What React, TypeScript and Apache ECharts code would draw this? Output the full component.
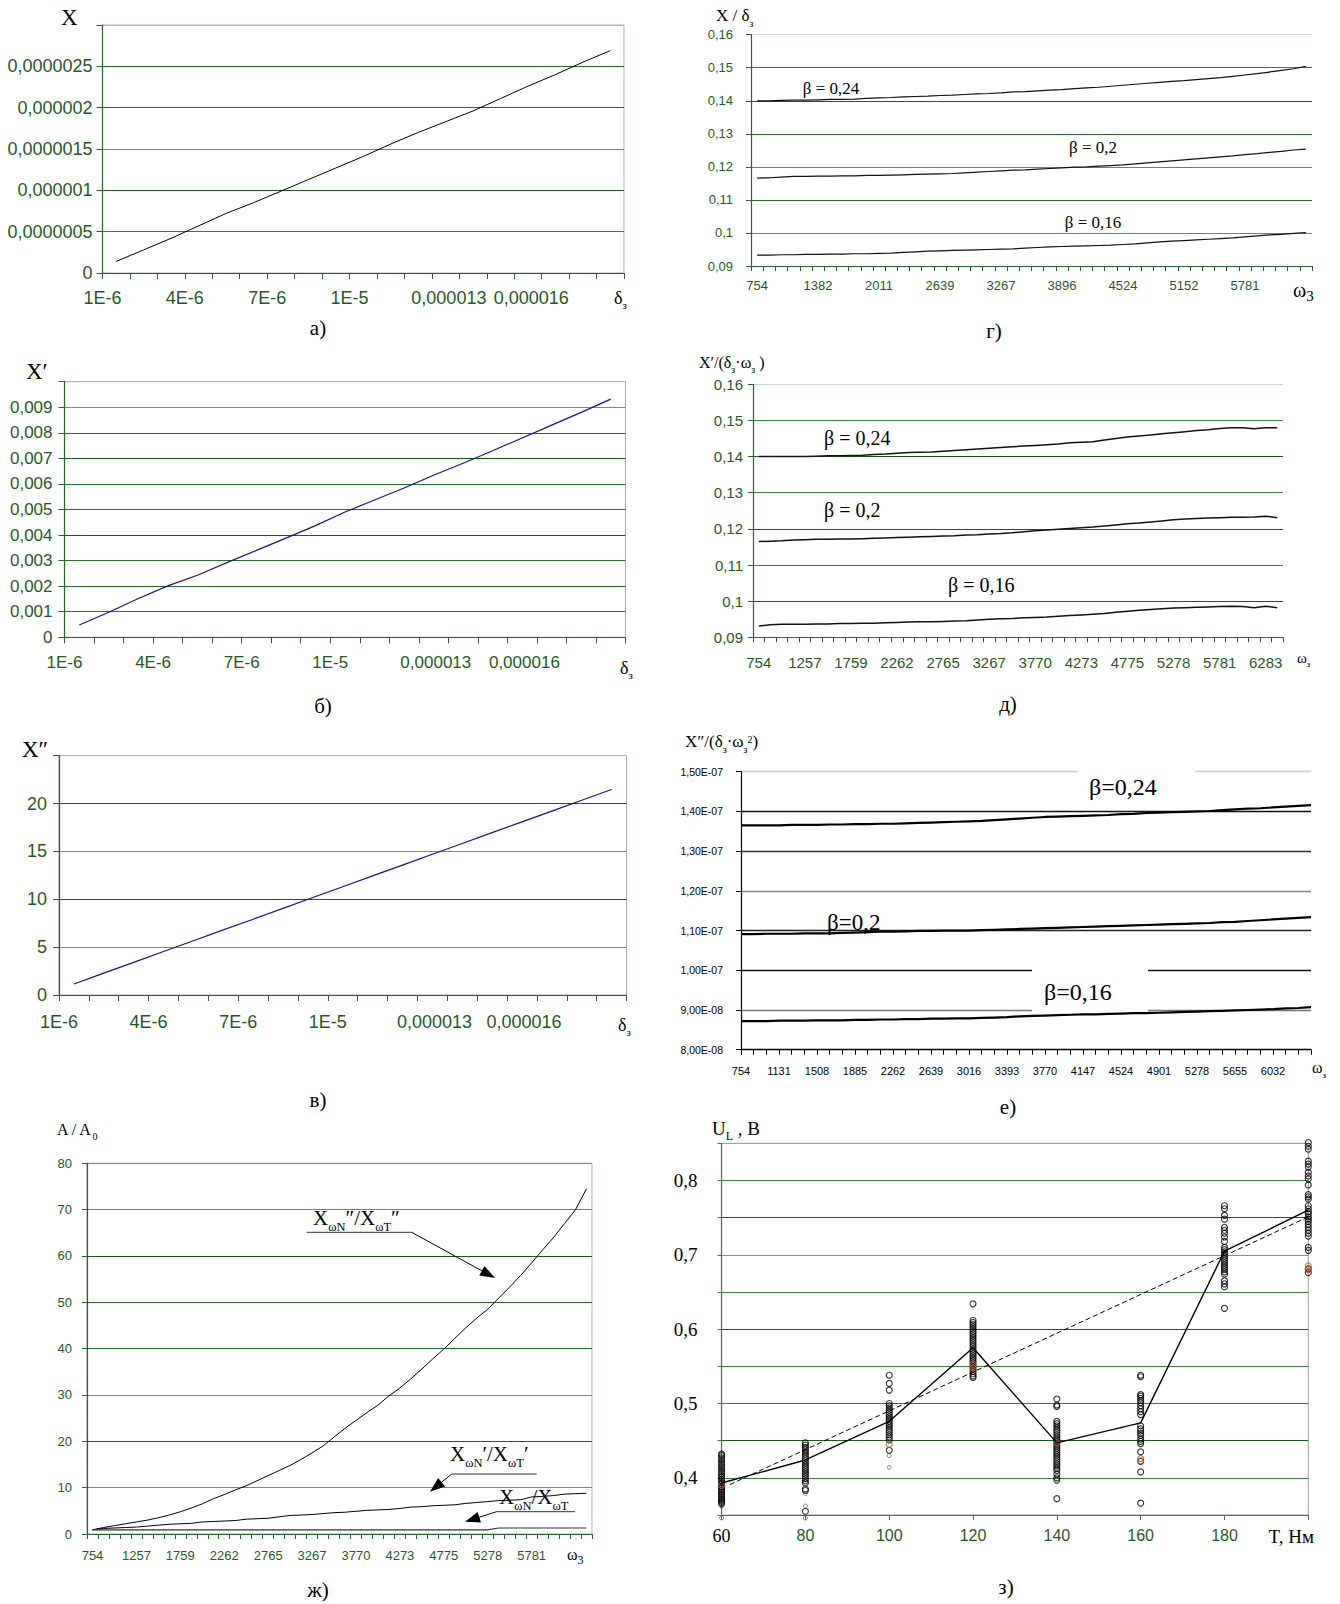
import React, { useEffect, useRef } from 'react';
import * as echarts from 'echarts';

const SERIF = "'Liberation Serif','Times New Roman',serif";
const SANS = "'Liberation Sans',Arial,sans-serif";
const GREEN_TXT = '#1f5a1f';
const GREEN_AX = '#2d5e2d';

// ---------- panels а, б, в : functions of δз ----------
const deltaX = [1.5e-6, 2.5e-6, 3.5e-6, 4.5e-6, 5.5e-6, 6.5e-6, 7.5e-6, 8.5e-6, 9.5e-6, 1.05e-5, 1.15e-5, 1.25e-5, 1.35e-5, 1.45e-5, 1.55e-5, 1.65e-5, 1.75e-5, 1.85e-5, 1.95e-5];
const deltaTickLabels = ['1E-6', '4E-6', '7E-6', '1E-5', '0,000013', '0,000016'];
const xA = [1.4e-7, 2.8e-7, 4.2e-7, 5.7e-7, 7.2e-7, 8.5e-7, 9.9e-7, 1.13e-6, 1.27e-6, 1.41e-6, 1.56e-6, 1.7e-6, 1.83e-6, 1.96e-6, 2.11e-6, 2.26e-6, 2.4e-6, 2.55e-6, 2.69e-6];
const xB = [0.00048, 0.00098, 0.00152, 0.00201, 0.00243, 0.00292, 0.0034, 0.00388, 0.00437, 0.0049, 0.00537, 0.00584, 0.00634, 0.00681, 0.0073, 0.0078, 0.0083, 0.0088, 0.00932];
const xV = [1.15, 2.28, 3.41, 4.54, 5.67, 6.8, 7.92, 9.05, 10.18, 11.31, 12.44, 13.57, 14.7, 15.83, 16.96, 18.08, 19.21, 20.34, 21.47];
const aYLabels = ['0', '0,0000005', '0,000001', '0,0000015', '0,000002', '0,0000025'];
const bYLabels = ['0', '0,001', '0,002', '0,003', '0,004', '0,005', '0,006', '0,007', '0,008', '0,009'];
const vYLabels = ['0', '5', '10', '15', '20'];

// ---------- panels г, д, е, ж : functions of ωз ----------
const omegaCats = ['754', '880', '1005', '1131', '1257', '1382', '1508', '1634', '1759', '1885', '2011', '2136', '2262', '2388', '2513', '2639', '2765', '2890', '3016', '3142', '3267', '3393', '3519', '3644', '3770', '3896', '4021', '4147', '4273', '4398', '4524', '4650', '4775', '4901', '5027', '5152', '5278', '5404', '5529', '5655', '5781', '5906', '6032', '6158', '6283', '6409'];
const rYLabels = ['0,09', '0,1', '0,11', '0,12', '0,13', '0,14', '0,15', '0,16'];
const eYLabels = ['8,00E-08', '9,00E-08', '1,00E-07', '1,10E-07', '1,20E-07', '1,30E-07', '1,40E-07', '1,50E-07'];
const zhYLabels = ['0', '10', '20', '30', '40', '50', '60', '70', '80'];

const gB24 = [0.14, 0.14, 0.1401, 0.1402, 0.1402, 0.1403, 0.1404, 0.1404, 0.1405, 0.1407, 0.1409, 0.141, 0.1412, 0.1413, 0.1414, 0.1416, 0.1417, 0.1419, 0.1421, 0.1422, 0.1424, 0.1427, 0.1428, 0.143, 0.1432, 0.1434, 0.1437, 0.1439, 0.1441, 0.1444, 0.1447, 0.145, 0.1453, 0.1456, 0.1459, 0.1461, 0.1464, 0.1467, 0.147, 0.1474, 0.1478, 0.1482, 0.1487, 0.1492, 0.1497, 0.1504];
const gB20 = [0.1166, 0.1167, 0.1169, 0.1171, 0.1171, 0.1172, 0.1172, 0.1173, 0.1173, 0.1174, 0.1174, 0.1175, 0.1176, 0.1177, 0.1178, 0.1179, 0.118, 0.1182, 0.1184, 0.1186, 0.1188, 0.119, 0.1191, 0.1193, 0.1195, 0.1197, 0.1199, 0.12, 0.1202, 0.1204, 0.1206, 0.1209, 0.1212, 0.1215, 0.1218, 0.1221, 0.1224, 0.1227, 0.123, 0.1233, 0.1237, 0.124, 0.1244, 0.1247, 0.1251, 0.1254];
const gB16 = [0.0933, 0.0933, 0.0934, 0.0934, 0.0935, 0.0935, 0.0936, 0.0936, 0.0937, 0.0937, 0.0938, 0.0939, 0.0941, 0.0943, 0.0945, 0.0946, 0.0947, 0.0948, 0.0949, 0.095, 0.0951, 0.0952, 0.0954, 0.0956, 0.0958, 0.0959, 0.096, 0.0961, 0.0962, 0.0963, 0.0965, 0.0967, 0.097, 0.0973, 0.0975, 0.0977, 0.0979, 0.0981, 0.0983, 0.0985, 0.0988, 0.0991, 0.0994, 0.0996, 0.0999, 0.1001];

const dB24 = [0.14, 0.14, 0.14, 0.14, 0.14, 0.1401, 0.1402, 0.1402, 0.1403, 0.1404, 0.1406, 0.1407, 0.1409, 0.1411, 0.1412, 0.1413, 0.1415, 0.1417, 0.1419, 0.1421, 0.1423, 0.1425, 0.1427, 0.1429, 0.1431, 0.1433, 0.1435, 0.1438, 0.144, 0.1441, 0.1446, 0.145, 0.1454, 0.1457, 0.146, 0.1463, 0.1466, 0.1469, 0.1472, 0.1474, 0.1478, 0.148, 0.148, 0.1477, 0.148, 0.148];
const dB20 = [0.1165, 0.1166, 0.1167, 0.1169, 0.117, 0.1171, 0.1171, 0.1172, 0.1172, 0.1173, 0.1174, 0.1175, 0.1176, 0.1177, 0.1178, 0.1179, 0.118, 0.1181, 0.1183, 0.1184, 0.1186, 0.1187, 0.1189, 0.1192, 0.1195, 0.1197, 0.1199, 0.1201, 0.1203, 0.1205, 0.1208, 0.1211, 0.1214, 0.1216, 0.1219, 0.1222, 0.1225, 0.1227, 0.1229, 0.123, 0.1231, 0.1232, 0.1232, 0.1233, 0.1235, 0.1231];
const dB16 = [0.0931, 0.0935, 0.0936, 0.0936, 0.0936, 0.0937, 0.0937, 0.0938, 0.0938, 0.0939, 0.0939, 0.094, 0.0941, 0.0942, 0.0943, 0.0943, 0.0944, 0.0945, 0.0946, 0.0948, 0.095, 0.0951, 0.0952, 0.0954, 0.0955, 0.0956, 0.0958, 0.096, 0.0962, 0.0964, 0.0966, 0.0969, 0.0972, 0.0975, 0.0977, 0.0979, 0.0981, 0.0982, 0.0983, 0.0984, 0.0985, 0.0986, 0.0985, 0.0982, 0.0986, 0.0982];

// values in units of 1e-7
const eB24 = [1.365, 1.365, 1.365, 1.365, 1.366, 1.366, 1.366, 1.367, 1.367, 1.368, 1.368, 1.369, 1.369, 1.37, 1.371, 1.372, 1.373, 1.374, 1.375, 1.376, 1.378, 1.38, 1.382, 1.384, 1.386, 1.387, 1.388, 1.389, 1.39, 1.391, 1.393, 1.394, 1.396, 1.397, 1.398, 1.399, 1.4, 1.401, 1.403, 1.405, 1.407, 1.408, 1.41, 1.412, 1.414, 1.416];
const eB20 = [1.091, 1.091, 1.092, 1.092, 1.092, 1.093, 1.093, 1.093, 1.094, 1.095, 1.096, 1.097, 1.097, 1.098, 1.099, 1.099, 1.1, 1.1, 1.1, 1.101, 1.102, 1.103, 1.104, 1.105, 1.106, 1.107, 1.108, 1.109, 1.11, 1.111, 1.112, 1.113, 1.114, 1.115, 1.116, 1.117, 1.118, 1.119, 1.121, 1.122, 1.124, 1.126, 1.128, 1.13, 1.132, 1.134];
const eB16 = [0.872, 0.872, 0.872, 0.873, 0.873, 0.873, 0.874, 0.874, 0.874, 0.875, 0.875, 0.876, 0.876, 0.877, 0.877, 0.878, 0.878, 0.879, 0.879, 0.88, 0.881, 0.882, 0.884, 0.885, 0.886, 0.887, 0.888, 0.889, 0.889, 0.89, 0.891, 0.892, 0.892, 0.893, 0.894, 0.895, 0.896, 0.897, 0.898, 0.899, 0.9, 0.901, 0.902, 0.904, 0.905, 0.907];

const zhN2 = [0.9, 1.4, 1.8, 2.2, 2.6, 3.0, 3.5, 4.1, 4.8, 5.6, 6.5, 7.6, 8.5, 9.5, 10.4, 11.5, 12.6, 13.7, 14.8, 16.1, 17.5, 19.0, 20.9, 22.8, 24.5, 26.2, 27.8, 29.8, 31.5, 33.5, 35.6, 37.8, 39.9, 42.2, 44.5, 46.6, 48.5, 50.9, 53.3, 55.8, 58.5, 61.3, 64.0, 67.0, 70.0, 74.5];
const zhN1 = [0.9, 1.2, 1.3, 1.4, 1.5, 1.7, 1.9, 2.1, 2.2, 2.3, 2.6, 2.7, 2.8, 2.9, 3.2, 3.3, 3.4, 3.7, 4.0, 4.1, 4.2, 4.4, 4.6, 4.7, 4.9, 5.1, 5.2, 5.3, 5.5, 5.8, 5.9, 6.1, 6.2, 6.3, 6.6, 6.8, 7.0, 7.2, 7.3, 7.4, 8.0, 8.1, 8.3, 8.6, 8.7, 8.8];
const zhN0 = [0.9, 0.9, 0.9, 0.9, 0.9, 0.9, 0.9, 0.9, 0.9, 0.9, 0.9, 0.9, 0.9, 0.9, 0.9, 0.9, 0.9, 0.9, 0.9, 0.9, 0.9, 0.9, 0.9, 0.9, 0.9, 0.9, 0.9, 0.9, 0.9, 0.9, 0.9, 0.9, 0.9, 0.9, 0.9, 0.9, 0.9, 1.3, 1.3, 1.3, 1.3, 1.3, 1.3, 1.3, 1.3, 1.3];

// ---------- panel з : U_L vs T ----------
const zT = [60, 80, 100, 120, 140, 160, 180, 200];
const zXLabels = ['60', '80', '100', '120', '140', '160', '180', 'T, Нм'];
const zYLabels = ['', '0,4', '', '0,5', '', '0,6', '', '0,7', '', '0,8', ''];
const zMean = [0.393, 0.424, 0.476, 0.575, 0.447, 0.474, 0.705, 0.76];
const zTrendT = [62, 200];
const zTrendU = [0.391, 0.751];
const u60 = [0.432, 0.43, 0.427, 0.424, 0.421, 0.418, 0.415, 0.412, 0.409, 0.406, 0.403, 0.401, 0.398, 0.396, 0.393, 0.391, 0.388, 0.386, 0.383, 0.381, 0.378, 0.376, 0.373, 0.371, 0.369, 0.367, 0.365];
const u80 = [0.447, 0.444, 0.441, 0.438, 0.435, 0.432, 0.429, 0.426, 0.423, 0.42, 0.417, 0.414, 0.411, 0.408, 0.405, 0.402, 0.399, 0.396, 0.393, 0.385, 0.383, 0.355];
const u100 = [0.538, 0.527, 0.518, 0.5, 0.497, 0.494, 0.491, 0.488, 0.485, 0.482, 0.479, 0.476, 0.473, 0.47, 0.467, 0.464, 0.461, 0.458, 0.455, 0.451, 0.437];
const u120 = [0.634, 0.612, 0.609, 0.606, 0.603, 0.6, 0.597, 0.594, 0.591, 0.588, 0.585, 0.582, 0.579, 0.576, 0.573, 0.57, 0.567, 0.564, 0.561, 0.558, 0.555, 0.552, 0.549, 0.546, 0.543, 0.54, 0.537, 0.535];
const u140 = [0.506, 0.498, 0.496, 0.476, 0.473, 0.47, 0.467, 0.464, 0.461, 0.458, 0.455, 0.452, 0.449, 0.446, 0.443, 0.44, 0.437, 0.434, 0.431, 0.428, 0.425, 0.422, 0.419, 0.416, 0.413, 0.41, 0.405, 0.4, 0.397, 0.372];
const u160 = [0.538, 0.536, 0.512, 0.51, 0.507, 0.504, 0.501, 0.497, 0.493, 0.489, 0.485, 0.47, 0.466, 0.463, 0.46, 0.457, 0.452, 0.449, 0.446, 0.435, 0.422, 0.408, 0.366];
const u180 = [0.766, 0.762, 0.753, 0.748, 0.737, 0.733, 0.729, 0.724, 0.718, 0.71, 0.707, 0.704, 0.701, 0.698, 0.695, 0.692, 0.689, 0.686, 0.683, 0.68, 0.677, 0.674, 0.665, 0.661, 0.657, 0.628];
const u200 = [0.851, 0.846, 0.842, 0.826, 0.822, 0.818, 0.811, 0.806, 0.802, 0.794, 0.781, 0.778, 0.775, 0.766, 0.762, 0.758, 0.755, 0.751, 0.748, 0.745, 0.741, 0.737, 0.733, 0.729, 0.725, 0.71, 0.706, 0.681, 0.676];
const redT = [60, 100, 120, 120, 140, 160, 160, 200, 200];
const redU = [0.39, 0.445, 0.553, 0.548, 0.447, 0.426, 0.423, 0.685, 0.68];
const smallT = [60, 60, 80, 80, 80, 100, 100];
const smallU = [0.362, 0.346, 0.379, 0.362, 0.346, 0.43, 0.414];

// ---------- helpers ----------
function mkY(o: any) {
  return {
    gridIndex: o.gi, type: 'value', min: o.min, max: o.max, interval: o.interval,
    axisLine: { show: true, onZero: false, lineStyle: { color: o.axis ?? GREEN_AX, width: 1.2 } },
    axisTick: { show: true, length: o.tick ?? 5, lineStyle: { color: o.axis ?? GREEN_AX } },
    axisLabel: {
      show: true, margin: o.margin, fontSize: o.fontSize, fontFamily: o.family ?? SANS, color: o.color ?? GREEN_TXT,
      formatter: (v: number) => o.labels[Math.round((v - o.min) / o.interval)] ?? '',
    },
    splitLine: { show: true, lineStyle: { color: o.colors, width: o.width ?? 1.2 } },
  };
}

function mkDeltaX(gi: number, fontSize: number, margin: number) {
  return {
    gridIndex: gi, type: 'value', min: 1e-6, max: 2e-5, interval: 1e-6,
    axisLine: { show: true, onZero: false, lineStyle: { color: GREEN_AX, width: 1.2 } },
    axisTick: { show: true, length: 6, lineStyle: { color: GREEN_AX } },
    splitLine: { show: false },
    axisLabel: {
      margin, fontSize, fontFamily: SANS, color: GREEN_TXT,
      formatter: (v: number) => {
        const k = Math.round(v / 1e-6) - 1;
        if (k % 3 !== 0) return '';
        const lab = deltaTickLabels[k / 3];
        if (!lab) return '';
        return k >= 12 ? `{w|${lab}}` : lab;
      },
      rich: { w: { fontSize, fontFamily: SANS, color: GREEN_TXT, padding: [0, 0, 0, 34] } },
    },
  };
}

function mkCatX(o: any) {
  return {
    gridIndex: o.gi, type: 'category', data: omegaCats, boundaryGap: o.gap,
    axisLine: { show: true, onZero: false, lineStyle: { color: o.axis ?? GREEN_AX, width: 1.2 } },
    axisTick: { show: true, interval: 0, length: 5, lineStyle: { color: o.axis ?? GREEN_AX } },
    splitLine: { show: false },
    axisLabel: {
      interval: (i: number) => i % o.every === 0 && i <= o.last,
      margin: o.margin, fontSize: o.fontSize, fontFamily: SANS, color: o.color ?? GREEN_TXT, hideOverlap: false,
    },
  };
}

function richSet(m: number, s: number, family = SERIF) {
  return {
    m: { fontSize: m, fontFamily: family, fill: '#000', color: '#000', verticalAlign: 'bottom', lineHeight: Math.round(m * 1.15), padding: [0, 0, Math.round(m * 0.22), 0] },
    s: { fontSize: s, fontFamily: family, fill: '#000', color: '#000', verticalAlign: 'bottom', lineHeight: Math.round(s * 1.15) },
    p: { fontSize: s, fontFamily: family, fill: '#000', color: '#000', verticalAlign: 'top', lineHeight: Math.round(s * 1.15) },
  };
}

function T(x: number, y: number, text: string, size: number, o: any = {}) {
  return {
    type: 'text', x, y, z: 100,
    style: {
      text, fontSize: size, fontFamily: o.family ?? SERIF, fill: o.fill ?? '#000',
      align: o.align ?? 'left', textAlign: o.align ?? 'left', verticalAlign: 'middle', textVerticalAlign: 'middle',
      rich: o.rich,
    },
  };
}

function arrow(x1: number, y1: number, x2: number, y2: number) {
  const dx = x2 - x1, dy = y2 - y1, L = Math.hypot(dx, dy), ux = dx / L, uy = dy / L;
  const hl = 15, hw = 5.5;
  const bx = x2 - ux * hl, by = y2 - uy * hl;
  return [
    { type: 'line', z: 100, shape: { x1, y1, x2: bx, y2: by }, style: { stroke: '#000', lineWidth: 1 } },
    { type: 'polygon', z: 100, shape: { points: [[x2, y2], [bx - uy * hw, by + ux * hw], [bx + uy * hw, by - ux * hw]] }, style: { fill: '#000' } },
  ];
}
function hline(x1: number, x2: number, y: number) {
  return { type: 'line', z: 100, shape: { x1, y1: y, x2, y2: y }, style: { stroke: '#333', lineWidth: 1 } };
}

function buildOption() {
  const grids = [
    { left: 102.5, top: 25, width: 521.5, height: 248 },
    { left: 64.5, top: 381.7, width: 561, height: 255.6 },
    { left: 59, top: 755.7, width: 567.5, height: 239.3 },
    { left: 751, top: 34.7, width: 561, height: 231.3 },
    { left: 753, top: 384.3, width: 530, height: 253 },
    { left: 741, top: 771.7, width: 570, height: 278 },
    { left: 87, top: 1163.3, width: 505, height: 370.7 },
    { left: 721.6, top: 1143.3, width: 586.7, height: 371.7 },
  ];
  const framed = [true, true, true, false, false, false, true, true];

  const xAxis = [
    mkDeltaX(0, 18, 16),
    mkDeltaX(1, 17, 17),
    mkDeltaX(2, 18, 18),
    mkCatX({ gi: 3, gap: true, every: 5, last: 40, margin: 13, fontSize: 13 }),
    mkCatX({ gi: 4, gap: true, every: 4, last: 44, margin: 18, fontSize: 15 }),
    mkCatX({ gi: 5, gap: false, every: 3, last: 42, margin: 16, fontSize: 11, axis: '#000', color: '#000' }),
    mkCatX({ gi: 6, gap: true, every: 4, last: 40, margin: 15, fontSize: 13 }),
    {
      gridIndex: 7, type: 'value', min: 60, max: 200, interval: 20,
      axisLine: { show: true, onZero: false, lineStyle: { color: '#3f7a3f', width: 1.2 } },
      axisTick: { show: true, length: 5, lineStyle: { color: '#3f7a3f' } },
      splitLine: { show: false },
      axisLabel: {
        margin: 12, fontSize: 16, fontFamily: SANS, color: GREEN_TXT,
        formatter: (v: number) => {
          const i = Math.round((v - 60) / 20);
          const l = zXLabels[i] ?? '';
          if (i === 0) return `{first|${l}}`;
          if (i === zXLabels.length - 1) return `{unit|${l}}`;
          return l;
        },
        rich: {
          first: { fontFamily: SERIF, fontSize: 18, fontWeight: 'normal', color: '#000' },
          unit: { fontFamily: SERIF, fontSize: 19, fontWeight: 'normal', color: '#000', padding: [0, 34, 0, 0] },
        },
      },
    },
  ];

  const yAxis = [
    mkY({ gi: 0, min: 0, max: 3e-6, interval: 5e-7, labels: aYLabels, fontSize: 18, margin: 10, tick: 6,
      colors: ['#2d5e2d', '#3f7a3f', '#1e5a1e', '#6e946e', '#2d662d', '#2d662d', '#a9b9a9'] }),
    mkY({ gi: 1, min: 0, max: 0.01, interval: 0.001, labels: bYLabels, fontSize: 17, margin: 12, tick: 6,
      colors: ['#2d5e2d', '#3a6e3a', '#2d6a2d', '#2d6a2d', '#1e5a1e', '#2d6a2d', '#2d6a2d', '#1e5a1e', '#2d6a2d', '#6e946e', '#a9b9a9'] }),
    mkY({ gi: 2, min: 0, max: 25, interval: 5, labels: vYLabels, fontSize: 18, margin: 12, tick: 6,
      colors: ['#2d5e2d', '#6e946e', '#1e5a1e', '#6e946e', '#1e5a1e', '#a9b9a9'] }),
    mkY({ gi: 3, min: 0.09, max: 0.16, interval: 0.01, labels: rYLabels, fontSize: 13, margin: 18,
      colors: ['#2d5e2d', '#5f8a5f', '#2d6a2d', '#5f8a5f', '#2d6a2d', '#1e5a1e', '#3f7a3f', '#d5e3d5'] }),
    mkY({ gi: 4, min: 0.09, max: 0.16, interval: 0.01, labels: rYLabels, fontSize: 15, margin: 10,
      colors: ['#2d5e2d', '#1e5a1e', '#3f7a3f', '#1e5a1e', '#3f7a3f', '#1e5a1e', '#3f7a3f', '#c8d8c8'] }),
    mkY({ gi: 5, min: 8e-8, max: 1.5e-7, interval: 1e-8, labels: eYLabels, fontSize: 10.5, margin: 18, axis: '#000', color: '#000', width: 1.4,
      colors: ['#000', '#777', '#111', '#222', '#888', '#333', '#111', '#cccccc'] }),
    mkY({ gi: 6, min: 0, max: 80, interval: 10, labels: zhYLabels, fontSize: 13, margin: 15,
      colors: ['#2d5e2d', '#6e946e', '#1e5a1e', '#6e946e', '#2d6a2d', '#2d6a2d', '#1e5a1e', '#5f8a5f', '#6e946e'] }),
    mkY({ gi: 7, min: 0.35, max: 0.85, interval: 0.05, labels: zYLabels, fontSize: 19, margin: 24, family: SERIF, color: '#000', axis: '#3f7a3f', tick: 4,
      colors: ['#3f7a3f', '#3f7a3f', '#1e5a1e', '#3f7a3f', '#3f7a3f', '#1e5a1e', '#3f7a3f', '#7a9a7a', '#1e5a1e', '#3f7a3f', '#a0a0a0'] }),
  ];

  const line = (xi: number, data: any[], color = '#000', width = 1.2, extra: any = {}) => ({
    type: 'line', xAxisIndex: xi, yAxisIndex: xi, data, symbol: 'none', showSymbol: false, silent: true,
    lineStyle: { color, width }, z: 3, ...extra,
  });

  const zCols = [u60, u80, u100, u120, u140, u160, u180, u200];
  const scatterMain = zCols.flatMap((col, i) => col.map((v) => [zT[i], v]));

  const series = [
    line(0, deltaX.map((x, i) => [x, xA[i]]), '#000', 1),
    line(1, deltaX.map((x, i) => [x, xB[i]]), '#14148a', 1.2),
    line(2, deltaX.map((x, i) => [x, xV[i]]), '#14148a', 1.2),
    line(3, gB24, '#111', 1.2), line(3, gB20, '#111', 1.2), line(3, gB16, '#111', 1.2),
    line(4, dB24, '#111', 1.5), line(4, dB20, '#111', 1.5), line(4, dB16, '#111', 1.5),
    line(5, eB24.map((v) => v * 1e-7), '#000', 2.2), line(5, eB20.map((v) => v * 1e-7), '#000', 2.2), line(5, eB16.map((v) => v * 1e-7), '#000', 2.2),
    line(6, zhN2, '#000', 1), line(6, zhN1, '#000', 1), line(6, zhN0, '#333', 1.2),
    {
      type: 'scatter', xAxisIndex: 7, yAxisIndex: 7, data: scatterMain, symbol: 'circle', symbolSize: 6, clip: false, silent: true,
      itemStyle: { color: 'rgba(0,0,0,0)', borderColor: '#000', borderWidth: 1.1 }, z: 3,
    },
    {
      type: 'scatter', xAxisIndex: 7, yAxisIndex: 7, data: smallT.map((t, i) => [t, smallU[i]]), symbol: 'circle', symbolSize: 4, clip: false, silent: true,
      itemStyle: { color: 'rgba(0,0,0,0)', borderColor: '#555', borderWidth: 0.9 }, z: 3,
    },
    {
      type: 'scatter', xAxisIndex: 7, yAxisIndex: 7, data: redT.map((t, i) => [t, redU[i]]), symbol: 'circle', symbolSize: 6, clip: false, silent: true,
      itemStyle: { color: 'rgba(0,0,0,0)', borderColor: '#c0501e', borderWidth: 1.1 }, z: 3,
    },
    line(7, zT.map((t, i) => [t, zMean[i]]), '#000', 1.4, { z: 4 }),
    line(7, zTrendT.map((t, i) => [t, zTrendU[i]]), '#000', 1, { z: 4, lineStyle: { color: '#000', width: 1, type: [5, 3] } }),
  ];

  const r18 = richSet(18, 11);
  const r16 = richSet(16, 10);
  const annot = richSet(21, 12.5);

  const graphic = [
    // white boxes behind labels in panel е
    { type: 'rect', z: 1, shape: { x: 1078, y: 762, width: 117, height: 44 }, style: { fill: '#fff' } },
    { type: 'rect', z: 1, shape: { x: 1032, y: 963, width: 116, height: 49 }, style: { fill: '#fff' } },

    // axis titles
    T(61, 17, 'X', 23),
    T(26, 371, 'X′', 23),
    T(22, 749, 'X″', 23),
    T(716, 18, '{m|X / δ}{s|з}', 17, { rich: richSet(17, 10) }),
    T(699, 365, '{m|X′/(δ}{s|з}{m|·ω}{s|з}{m| )}', 16, { rich: r16 }),
    T(685, 744, '{m|X″/(δ}{s|з}{m|·ω}{s|з}{p|2}{m|)}', 17, { rich: richSet(17, 10) }),
    T(57, 1132, '{m|A / A}{s|0}', 16, { rich: r16 }),
    T(712, 1131, '{m|U}{s|L}{m| , В}', 18, { rich: richSet(19, 12) }),

    // axis end labels
    T(614, 300, '{m|δ}{s|з}', 18, { rich: r18 }),
    T(620, 670, '{m|δ}{s|з}', 18, { rich: r18 }),
    T(618, 1027, '{m|δ}{s|з}', 18, { rich: r18 }),
    T(1293, 292, '{m|ω}{s|3}', 20, { rich: richSet(20, 15) }),
    T(1297, 660, '{m|ω}{s|з}', 15, { rich: richSet(15, 9) }),
    T(1312, 1070, '{m|ω}{s|з}', 16, { rich: richSet(16, 9) }),
    T(567, 1557, '{m|ω}{s|3}', 16, { rich: richSet(16, 12) }),

    // captions
    T(318, 328, 'а)', 21, { align: 'center' }),
    T(323, 706, 'б)', 21, { align: 'center' }),
    T(318, 1100, 'в)', 21, { align: 'center' }),
    T(318, 1590, 'ж)', 21, { align: 'center' }),
    T(994, 331, 'г)', 21, { align: 'center' }),
    T(1008, 704, 'д)', 21, { align: 'center' }),
    T(1008, 1107, 'е)', 21, { align: 'center' }),
    T(1006, 1587, 'з)', 21, { align: 'center' }),

    // β labels
    T(831, 88, 'β = 0,24', 17, { align: 'center' }),
    T(1093, 147, 'β = 0,2', 17, { align: 'center' }),
    T(1093, 222, 'β = 0,16', 17, { align: 'center' }),
    T(824, 438, 'β = 0,24', 20),
    T(824, 510, 'β = 0,2', 20),
    T(948, 585, 'β = 0,16', 20),
    T(1089, 787, 'β=0,24', 24),
    T(827, 922, 'β=0,2', 23),
    T(1044, 992, 'β=0,16', 24),

    // panel ж annotations
    T(313, 1221, '{m|X}{s|ωN}{m|″/X}{s|ωT}{m|″}', 21, { rich: annot }),
    hline(306.7, 411.7, 1232.3),
    ...arrow(411.7, 1232.3, 495, 1278),
    T(450, 1457, '{m|X}{s|ωN}{m|′/X}{s|ωT}{m|′}', 21, { rich: annot }),
    hline(451.7, 536.7, 1474),
    ...arrow(451.7, 1474, 430, 1491.7),
    T(499, 1500, '{m|X}{s|ωN}{m|/X}{s|ωT}', 21, { rich: annot }),
    hline(496.7, 575, 1511.7),
    ...arrow(496.7, 1511.7, 465, 1521.7),
  ];

  return {
    backgroundColor: '#ffffff',
    animation: false,
    grid: grids.map((g, i) => ({ ...g, show: framed[i], borderColor: i === 7 ? '#a0a0a0' : '#a3b3a3', borderWidth: 1, backgroundColor: 'transparent' })),
    xAxis,
    yAxis,
    series,
    graphic: { elements: graphic },
  };
}

export default function App() {
  const ref = useRef<HTMLDivElement>(null);
  useEffect(() => {
    const chart = echarts.init(ref.current as HTMLDivElement, null, { renderer: 'svg' });
    chart.setOption(buildOption() as any);
    return () => chart.dispose();
  }, []);
  return (
    <div
      ref={ref}
      style={{ position: 'absolute', left: 0, top: 0, width: 1340, height: 1604, background: '#fff' }}
    />
  );
}
